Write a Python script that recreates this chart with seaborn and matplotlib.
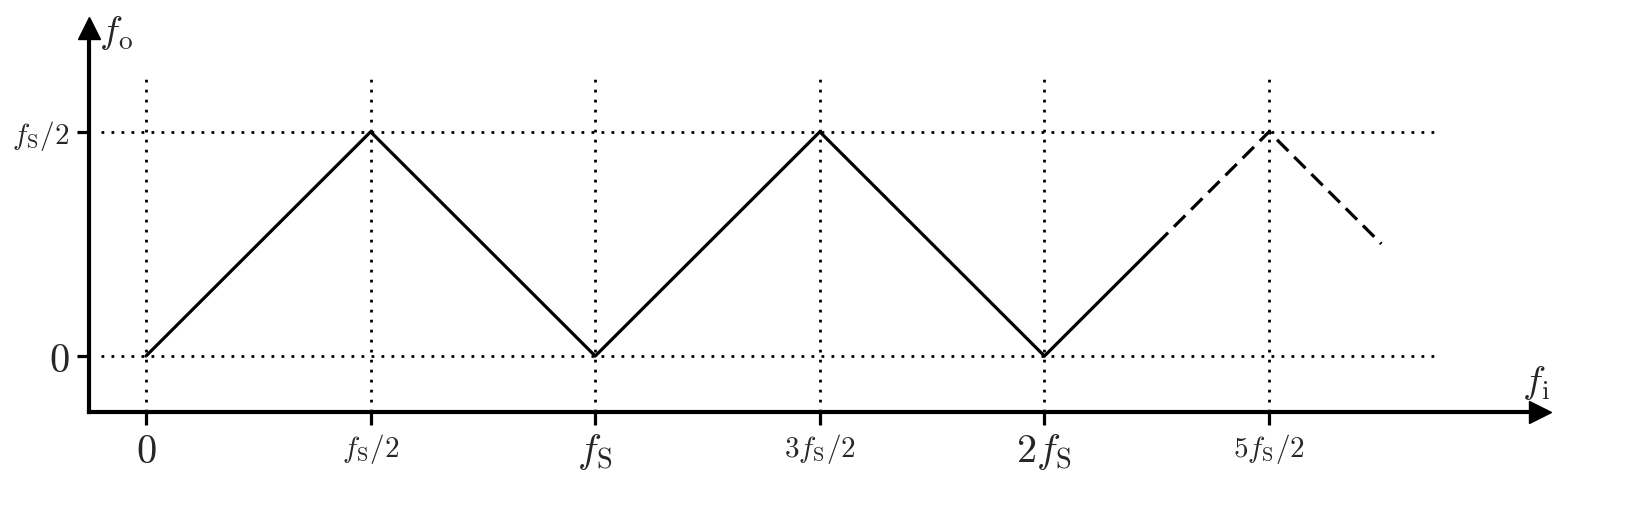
import matplotlib
matplotlib.use('Agg')
import matplotlib.pyplot as plt
import seaborn as sns

# aliasing: output frequency vs input frequency (in units of fs)
tick_pos = [0, 0.5, 1.0, 1.5, 2.0, 2.5]
tick_labels = [r'$0$', r'$f_\mathrm{S}/2$', r'$f_\mathrm{S}$',
               r'$3f_\mathrm{S}/2$', r'$2f_\mathrm{S}$', r'$5f_\mathrm{S}/2$']
tick_sizes = [29, 21, 29, 21, 29, 21]
ytick_pos = [0, 0.5]
ytick_labels = [r'$0$', r'$f_\mathrm{S}/2$']
ytick_sizes = [29, 21]

solid_x = [0, 0.5, 1.0, 1.5, 2.0, 2.25]
solid_y = [0, 0.5, 0, 0.5, 0, 0.25]
dash_x = [2.25, 2.5, 2.75]
dash_y = [0.25, 0.5, 0.25]

sns.set_style('white')
plt.rcParams['mathtext.fontset'] = 'cm'

fig = plt.figure(figsize=(16.47, 5.05), dpi=100)
ax = fig.add_axes([0.054, 0.184, 0.881, 0.761])
ax.set_xlim(-0.127, 3.103)
ax.set_ylim(-0.125, 0.732)

# dotted guide lines
ax.vlines(tick_pos, -0.125, 0.62, colors='black', linestyles=(0, (1, 2.6)), lw=2)
ax.hlines(ytick_pos, -0.10, 2.875, colors='black', linestyles=(0, (1, 2.6)), lw=2)

sns.lineplot(x=solid_x, y=solid_y, sort=False, color='black', lw=2.3, ax=ax)
sns.lineplot(x=dash_x, y=dash_y, sort=False, color='black', lw=2.3, ax=ax,
             linestyle=(0, (5, 2.6)))

# axes with arrow heads
for s in ['top', 'right']:
    ax.spines[s].set_visible(False)
for s in ['left', 'bottom']:
    ax.spines[s].set_linewidth(3)
    ax.spines[s].set_color('black')
ax.plot(1, 0, '>k', ms=16, transform=ax.transAxes, clip_on=False)
ax.plot(0, 1, '^k', ms=16, transform=ax.transAxes, clip_on=False)

ax.set_xticks(tick_pos)
ax.set_xticklabels(tick_labels)
for lab, fs in zip(ax.get_xticklabels(), tick_sizes):
    lab.set_fontsize(fs)
ax.set_yticks(ytick_pos)
ax.set_yticklabels(ytick_labels)
for lab, fs in zip(ax.get_yticklabels(), ytick_sizes):
    lab.set_fontsize(fs)
ax.tick_params(direction='out', length=9, width=2.3, color='black', pad=5,
               bottom=True, left=True)

ax.text(-0.105, 0.72, r'$f_\mathrm{o}$', fontsize=28, ha='left', va='center')
ax.text(3.095, -0.06, r'$f_\mathrm{i}$', fontsize=28, ha='center', va='center')

plt.savefig('out.png', dpi=100)
